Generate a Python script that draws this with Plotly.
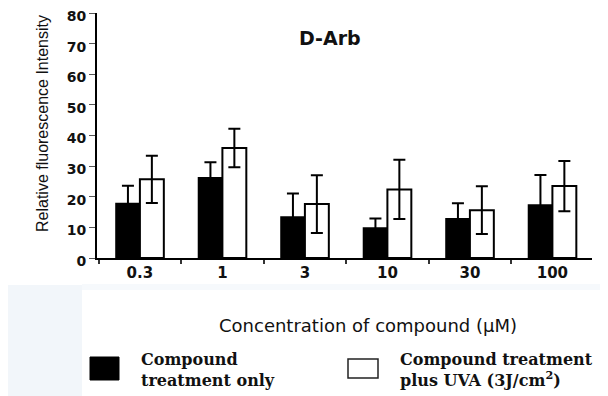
import plotly.graph_objects as go

categories = ["0.3", "1", "3", "10", "30", "100"]
only_vals = [17.8, 26.2, 13.4, 9.8, 12.8, 17.3]
only_err = [5.8, 5.1, 7.7, 3.1, 5.1, 9.8]
uva_vals = [25.7, 35.9, 17.6, 22.4, 15.6, 23.5]
uva_err = [7.7, 6.3, 9.4, 9.7, 7.8, 8.2]
y_ticks = [0, 10, 20, 30, 40, 50, 60, 70, 80]

# page has an 8px body margin; figure coordinates are page coordinates minus 8
OFF = 8
W, H = 608 - OFF, 396 - OFF
L, R, T, B = 97 - OFF, 16, 13 - OFF, 138
PW, PH = W - L - R, H - T - B

def px(x):
    return (x - OFF - L) / PW

def py(y):
    return (H - B - (y - OFF)) / PH

fig = go.Figure()
fig.add_trace(go.Bar(
    x=categories, y=only_vals, name="Compound treatment only",
    marker=dict(color="black", line=dict(color="black", width=1.5)),
    error_y=dict(type="data", array=only_err, color="black", thickness=2, width=6),
))
fig.add_trace(go.Bar(
    x=categories, y=uva_vals, name="Compound treatment plus UVA",
    marker=dict(color="white", line=dict(color="black", width=2)),
    error_y=dict(type="data", array=uva_err, color="black", thickness=2, width=6),
))

shapes = [
    dict(type="rect", xref="paper", yref="paper", x0=px(8), x1=px(82), y0=py(396), y1=py(285),
         fillcolor="#f2f6fa", line=dict(width=0), layer="below"),
    dict(type="rect", xref="paper", yref="paper", x0=px(82), x1=px(608), y0=py(290), y1=py(284),
         fillcolor="#f6f9fc", line=dict(width=0), layer="below"),
    dict(type="rect", xref="paper", yref="paper", x0=px(90), x1=px(119), y0=py(380), y1=py(357),
         fillcolor="black", line=dict(color="black", width=1)),
    dict(type="rect", xref="paper", yref="paper", x0=px(348), x1=px(378), y0=py(378), y1=py(359),
         fillcolor="white", line=dict(color="#222", width=1.5)),
]

annotations = [
    dict(text="<b>D-Arb</b>", x=px(330), y=py(38), xref="paper", yref="paper", showarrow=False,
         font=dict(family="DejaVu Sans", size=19, color="#111"), xanchor="center", yanchor="middle"),
    dict(text="Relative fluorescence Intensity", x=px(42), y=py(124), xref="paper", yref="paper",
         showarrow=False, textangle=-90,
         font=dict(family="Liberation Sans, Arial, sans-serif", size=16, color="#111"),
         xanchor="center", yanchor="middle"),
    dict(text="Concentration of compound (\u03bcM)", x=px(368), y=py(325), xref="paper", yref="paper",
         showarrow=False, font=dict(family="DejaVu Sans", size=18, color="#111"),
         xanchor="center", yanchor="middle"),
    dict(text="<b>Compound<br>treatment only</b>", x=px(139), y=py(370), xref="paper", yref="paper",
         showarrow=False, align="left", font=dict(family="DejaVu Serif", size=16, color="#111"),
         xanchor="left", yanchor="middle"),
    dict(text="<b>Compound treatment<br>plus UVA (3J/cm<sup>2</sup>)</b>", x=px(398), y=py(370),
         xref="paper", yref="paper", showarrow=False, align="left",
         font=dict(family="DejaVu Serif", size=16, color="#111"),
         xanchor="left", yanchor="middle"),
]

fig.update_layout(
    width=W, height=H,
    margin=dict(l=L, r=R, t=T, b=B, pad=0, autoexpand=False),
    paper_bgcolor="white", plot_bgcolor="white",
    barmode="group", bargap=0.42, bargroupgap=0,
    showlegend=False,
    shapes=shapes, annotations=annotations,
    xaxis=dict(type="category", range=[-0.52, 5.48], showline=True, linecolor="black", linewidth=2,
               ticks="outside", tickson="boundaries", ticklen=4, tickwidth=2, tickcolor="#333",
               showgrid=False, zeroline=False, automargin=False,
               tickfont=dict(family="DejaVu Sans", size=15, color="#111", weight="bold")),
    yaxis=dict(range=[0, 80], tickvals=y_ticks, showline=True, linecolor="black", linewidth=2,
               ticks="outside", ticklen=6, tickwidth=1, tickcolor="#555",
               showgrid=False, zeroline=False, automargin=False, ticklabeloverflow="allow",
               ticklabelshift=3,
               tickfont=dict(family="DejaVu Sans", size=14, color="#111", weight="bold")),
)

fig.write_html("out.html")
